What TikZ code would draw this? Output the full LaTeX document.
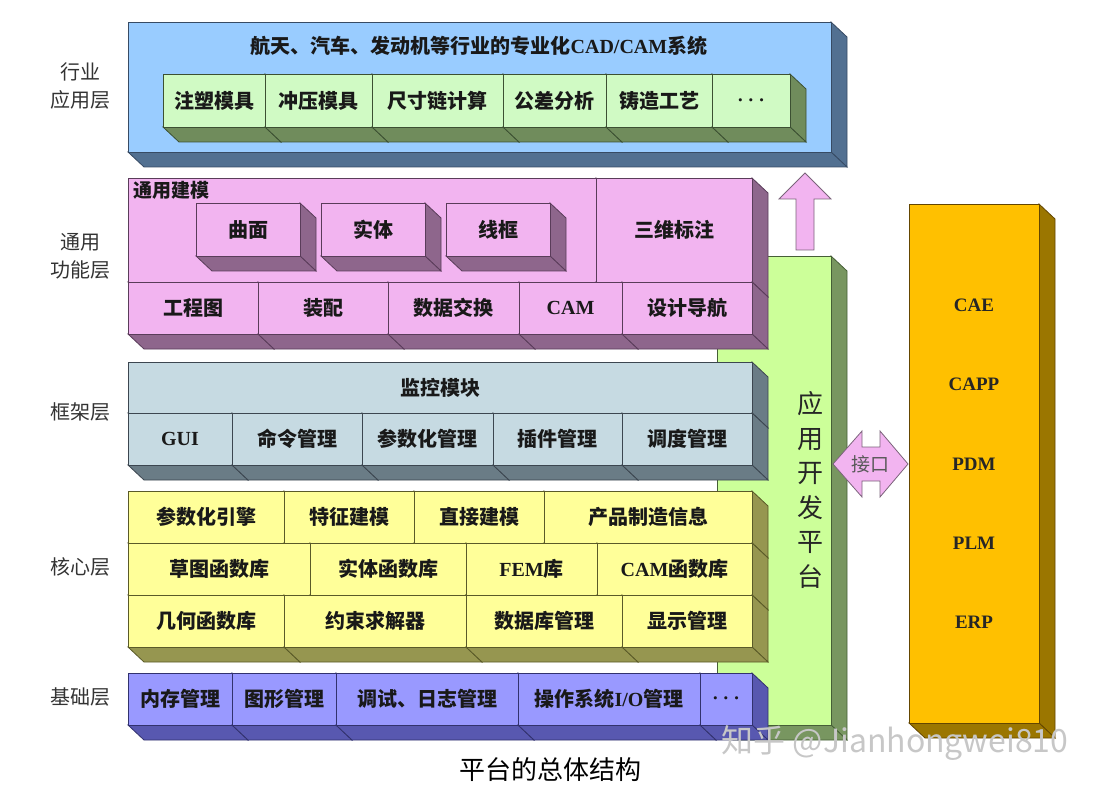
\documentclass[tikz,border=0pt]{standalone}
\usepackage{fontspec}
\setmainfont{Noto Sans CJK SC}
\newfontfamily\lat{Liberation Serif}

\definecolor{blueF}{RGB}{153,204,255}
\definecolor{blueS}{RGB}{82,112,145}
\definecolor{blueL}{RGB}{55,75,100}
\definecolor{grnF}{RGB}{208,250,196}
\definecolor{grnS}{RGB}{112,140,92}
\definecolor{grnL}{RGB}{60,80,50}
\definecolor{pinkF}{RGB}{242,180,240}
\definecolor{pinkS}{RGB}{142,102,140}
\definecolor{pinkL}{RGB}{90,60,90}
\definecolor{grayF}{RGB}{198,218,226}
\definecolor{grayS}{RGB}{106,124,134}
\definecolor{grayL}{RGB}{60,70,80}
\definecolor{yelF}{RGB}{255,255,153}
\definecolor{yelS}{RGB}{150,150,80}
\definecolor{yelL}{RGB}{90,90,40}
\definecolor{purF}{RGB}{153,153,255}
\definecolor{purS}{RGB}{88,88,176}
\definecolor{purL}{RGB}{50,50,110}
\definecolor{platF}{RGB}{204,255,153}
\definecolor{platS}{RGB}{120,150,96}
\definecolor{platL}{RGB}{70,95,55}
\definecolor{orgF}{RGB}{255,192,0}
\definecolor{orgS}{RGB}{155,118,0}
\definecolor{orgL}{RGB}{100,70,0}

\newcommand{\en}[1]{{\lat\bfseries #1}}
\newcommand{\mdots}{{\boldmath$\cdots$}}
\newcommand{\depx}{16}
\newcommand{\depy}{15}
% slab: name, x1, y1, x2, y2, colour set, text
\newcommand{\slab}[7]{%
  \filldraw[fill=#6S, draw=#6L, line width=0.8pt] (#4,#3) -- ++(\depx,\depy) -- ({#4+\depx},{#5+\depy}) -- (#4,#5) -- cycle;
  \filldraw[fill=#6S, draw=#6L, line width=0.8pt] (#2,#5) -- (#4,#5) -- ({#4+\depx},{#5+\depy}) -- ({#2+\depx},{#5+\depy}) -- cycle;
  \node[face, fill=#6F, draw=#6L, minimum width={(#4-#2)*1pt}, minimum height={(#5-#3)*1pt}] (#1) at ({(#2+#4)/2},{(#3+#5)/2}) {#7};
}

\tikzset{
  face/.style={inner sep=0, line width=0.8pt, text=black!90, font=\bfseries\fontsize{20}{24}\selectfont},
  layer/.style={align=center, text=black!80, font=\fontsize{20}{28}\selectfont},
  sysl/.style={font=\lat\bfseries\fontsize{19}{22}\selectfont, text=black!85},
  blockarrow/.style={fill=pinkF, draw=pinkL!80, line width=0.8pt}
}

\begin{document}
\begin{tikzpicture}[x=1pt, y=-1pt]
    \useasboundingbox (0,0) rectangle (1100,794);
    % Ebenen-Beschriftung links
    \node[layer] (l1) at (80,86) {行业\\应用层};
    \node[layer] (l2) at (80,256) {通用\\功能层};
    \node[layer] (l3) at (80,412) {框架层};
    \node[layer] (l4) at (80,567) {核心层};
    \node[layer] (l5) at (80,697) {基础层};
    % Entwicklungsplattform (hinten)
    \slab{plat}{717}{256}{831}{725}{plat}{}
    \node[align=center, text=black!85, font=\fontsize{26}{34.5}\selectfont] (platt) at (810,490) {应\\用\\开\\发\\平\\台};
    % Anwendungsschicht
    \slab{app}{128}{22}{831}{152}{blue}{}
    \node[face] (appt) at (479,46) {航天、汽车、发动机等行业的专业化\en{CAD/CAM}系统};
    \slab{ap1}{163}{74}{265}{127}{grn}{注塑模具}
    \slab{ap2}{265}{74}{372}{127}{grn}{冲压模具}
    \slab{ap3}{372}{74}{503}{127}{grn}{尺寸链计算}
    \slab{ap4}{503}{74}{606}{127}{grn}{公差分析}
    \slab{ap5}{606}{74}{712}{127}{grn}{铸造工艺}
    \slab{ap6}{712}{74}{790}{127}{grn}{\mdots}
    % allgemeine Funktionen
    \slab{gm}{128}{178}{596}{282}{pink}{}
    \node[face, anchor=north west, font=\bfseries\fontsize{19}{22}\selectfont] (gmt) at (133,181) {通用建模};
    \slab{bz}{596}{178}{752}{282}{pink}{三维标注}
    \slab{gs1}{196}{203}{300}{256}{pink}{曲面}
    \slab{gs2}{321}{203}{425}{256}{pink}{实体}
    \slab{gs3}{446}{203}{550}{256}{pink}{线框}
    \slab{gf1}{128}{282}{258}{334}{pink}{工程图}
    \slab{gf2}{258}{282}{388}{334}{pink}{装配}
    \slab{gf3}{388}{282}{519}{334}{pink}{数据交换}
    \slab{gf4}{519}{282}{622}{334}{pink}{\en{CAM}}
    \slab{gf5}{622}{282}{752}{334}{pink}{设计导航}
    % Rahmen
    \slab{mon}{128}{362}{752}{413}{gray}{监控模块}
    \slab{fw1}{128}{413}{232}{465}{gray}{\en{GUI}}
    \slab{fw2}{232}{413}{362}{465}{gray}{命令管理}
    \slab{fw3}{362}{413}{493}{465}{gray}{参数化管理}
    \slab{fw4}{493}{413}{622}{465}{gray}{插件管理}
    \slab{fw5}{622}{413}{752}{465}{gray}{调度管理}
    % Kern
    \slab{ka1}{128}{491}{284}{543}{yel}{参数化引擎}
    \slab{ka2}{284}{491}{414}{543}{yel}{特征建模}
    \slab{ka3}{414}{491}{544}{543}{yel}{直接建模}
    \slab{ka4}{544}{491}{752}{543}{yel}{产品制造信息}
    \slab{kb1}{128}{543}{310}{595}{yel}{草图函数库}
    \slab{kb2}{310}{543}{466}{595}{yel}{实体函数库}
    \slab{kb3}{466}{543}{597}{595}{yel}{\en{FEM}库}
    \slab{kb4}{597}{543}{752}{595}{yel}{\en{CAM}函数库}
    \slab{kc1}{128}{595}{284}{647}{yel}{几何函数库}
    \slab{kc2}{284}{595}{466}{647}{yel}{约束求解器}
    \slab{kc3}{466}{595}{622}{647}{yel}{数据库管理}
    \slab{kc4}{622}{595}{752}{647}{yel}{显示管理}
    % Basis
    \slab{bs1}{128}{673}{232}{725}{pur}{内存管理}
    \slab{bs2}{232}{673}{336}{725}{pur}{图形管理}
    \slab{bs3}{336}{673}{518}{725}{pur}{调试、日志管理}
    \slab{bs4}{518}{673}{700}{725}{pur}{操作系统\en{I/O}管理}
    \slab{bs5}{700}{673}{752}{725}{pur}{\mdots}
    % externe Systeme
    \slab{ext}{909}{204}{1039}{723}{org}{}
    \foreach \y/\t [count=\i] in {305/CAE, 384/CAPP, 464/PDM, 543/PLM, 622/ERP}
        \node[sysl] (s\i) at (974,\y) {\t};
    % Pfeile
    \filldraw[blockarrow] (805,173) -- (831,199) -- (814,199) -- (814,250) -- (796,250) -- (796,199) -- (779,199) -- cycle;
    \filldraw[blockarrow] (833,464) -- (862,431) -- (862,447) -- (880,447) -- (880,431) -- (908,464)
        -- (880,497) -- (880,481) -- (862,481) -- (862,497) -- cycle;
    \node[text=black!65, font=\fontsize{19}{22}\selectfont] (jkt) at (870,464) {接口};
    % Titel
    \node[font=\fontsize{26}{30}\selectfont] (cap) at (550,770) {平台的总体结构};
    \node[text=black!22, font=\fontsize{32}{34}\selectfont] (wm) at (895,743) {知乎 @Jianhongwei810};
\end{tikzpicture}
\end{document}
